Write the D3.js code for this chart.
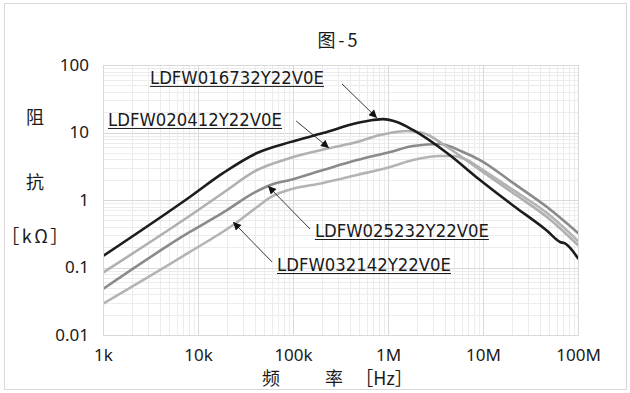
<!DOCTYPE html>
<html>
<head>
<meta charset="utf-8">
<script src="https://cdn.jsdelivr.net/npm/d3@7"></script>
<style>
  html, body { margin: 0; padding: 0; background: #fff; }
  svg { display: block; }
  text { fill: #1a1a1a; }
</style>
</head>
<body>
<svg id="chart" width="630" height="393"></svg>
<script>
// Impedance vs. frequency for four ferrite bead parts (log-log).
// Frequencies in Hz, impedance in kΩ.
const partNames = ["LDFW016732Y22V0E", "LDFW020412Y22V0E", "LDFW025232Y22V0E", "LDFW032142Y22V0E"];

const freq016732 = [1e3, 8.2e3, 18.3e3, 41.8e3, 93e3, 207e3, 472e3, 695e3, 886e3, 1.24e6, 1.83e6, 4.18e6, 9.3e6, 20.7e6, 47.2e6, 64.7e6, 73e6, 1e8];
const z016732    = [0.148, 1.11, 2.5, 4.97, 7.2, 9.8, 13.8, 15.3, 15.8, 14.3, 10.9, 4.97, 1.98, 0.83, 0.35, 0.239, 0.227, 0.137];

const freq020412 = [1e3, 8.2e3, 18.3e3, 41.8e3, 93e3, 245e3, 472e3, 824e3, 1.05e6, 1.58e6, 2.34e6, 4.18e6, 9.3e6, 20.7e6, 47.2e6, 1e8];
const z020412    = [0.084, 0.585, 1.27, 2.78, 4.19, 5.89, 7.23, 9.18, 9.84, 10.5, 9.84, 6.1, 2.78, 1.27, 0.56, 0.215];

const freq025232 = [1e3, 8.2e3, 18.3e3, 40e3, 60e3, 93e3, 207e3, 472e3, 1.05e6, 1.83e6, 3.53e6, 6.15e6, 9.3e6, 20.7e6, 47.2e6, 1e8];
const z025232    = [0.048, 0.336, 0.65, 1.31, 1.70, 1.98, 2.78, 3.91, 5.14, 6.31, 6.76, 5.14, 3.91, 1.79, 0.787, 0.325];

const freq032142 = [1e3, 8.2e3, 23.4e3, 41.8e3, 60e3, 90e3, 207e3, 472e3, 1.05e6, 1.83e6, 3.53e6, 4.83e6, 6.79e6, 9.3e6, 20.7e6, 47.2e6, 1e8];
const z032142    = [0.029, 0.17, 0.426, 0.787, 1.13, 1.41, 1.79, 2.35, 3.08, 3.91, 4.49, 4.49, 3.91, 2.98, 1.41, 0.64, 0.247];

const xTickValues = [1e3, 1e4, 1e5, 1e6, 1e7, 1e8];
const xTickLabels = ["1k", "10k", "100k", "1M", "10M", "100M"];
const yTickValues = [0.01, 0.1, 1, 10, 100];
const yTickLabels = ["0.01", "0.1", "1", "10", "100"];

// Callout placement in data units: label baseline start and arrow tail/tip.
const labelFreq  = [3.12e3, 1.13e3, 170e3, 67.9e3];
const labelZ     = [52.4, 12.5, 0.283, 0.0887];
const arrowFromF = [328e3, 108e3, 151e3, 60.1e3];
const arrowFromZ = [52.4, 14.8, 0.372, 0.121];
const arrowToF   = [766e3, 239e3, 54.6e3, 23.4e3];
const arrowToZ   = [16.4, 5.89, 1.61, 0.472];

const series = [
  { name: partNames[0], f: freq016732, z: z016732, color: "#1c1c1c" },
  { name: partNames[1], f: freq020412, z: z020412, color: "#b0b0b0" },
  { name: partNames[2], f: freq025232, z: z025232, color: "#8a8a8a" },
  { name: partNames[3], f: freq032142, z: z032142, color: "#b4b4b4" }
];

const svg = d3.select("#chart");
const plot = { left: 103, right: 578, top: 65, bottom: 335 };

// outer frame
svg.append("rect")
  .attr("x", 4.5).attr("y", 3.5).attr("width", 622).attr("height", 386)
  .attr("fill", "#fff").attr("stroke", "#d9d9d9").attr("stroke-width", 1);

const x = d3.scaleLog().domain([1e3, 1e8]).range([plot.left, plot.right]);
const y = d3.scaleLog().domain([0.01, 100]).range([plot.bottom, plot.top]);

// grid: minor lines (2..9 of each decade) then decade lines
const minorX = [];
for (let e = 3; e < 8; e++) for (let m = 2; m <= 9; m++) minorX.push(m * Math.pow(10, e));
const minorY = [];
for (let e = -2; e < 2; e++) for (let m = 2; m <= 9; m++) minorY.push(m * Math.pow(10, e));

const grid = svg.append("g").attr("shape-rendering", "crispEdges");
grid.selectAll(".vx").data(minorX).enter().append("line")
  .attr("x1", d => Math.round(x(d)) + 0.5).attr("x2", d => Math.round(x(d)) + 0.5)
  .attr("y1", plot.top).attr("y2", plot.bottom)
  .attr("stroke", "#ececec").attr("stroke-width", 1);
grid.selectAll(".hy").data(minorY).enter().append("line")
  .attr("y1", d => Math.round(y(d)) + 0.5).attr("y2", d => Math.round(y(d)) + 0.5)
  .attr("x1", plot.left).attr("x2", plot.right)
  .attr("stroke", "#ececec").attr("stroke-width", 1);
grid.selectAll(".mx").data(xTickValues).enter().append("line")
  .attr("x1", d => Math.round(x(d)) + 0.5).attr("x2", d => Math.round(x(d)) + 0.5)
  .attr("y1", plot.top).attr("y2", plot.bottom)
  .attr("stroke", "#d9d9d9").attr("stroke-width", 1);
grid.selectAll(".my").data(yTickValues).enter().append("line")
  .attr("y1", d => Math.round(y(d)) + 0.5).attr("y2", d => Math.round(y(d)) + 0.5)
  .attr("x1", plot.left).attr("x2", plot.right)
  .attr("stroke", "#d9d9d9").attr("stroke-width", 1);

// axes (labels only, no tick marks)
const axisFont = "'Noto Sans', 'DejaVu Sans', sans-serif";
const xAxis = d3.axisBottom(x).tickValues(xTickValues)
  .tickFormat((d, i) => xTickLabels[i]).tickSize(0).tickPadding(14);
const gx = svg.append("g").attr("transform", `translate(0,${plot.bottom})`).call(xAxis);
gx.select(".domain").remove();
gx.selectAll("text").attr("font-family", axisFont).attr("font-size", 17).attr("fill", "#1a1a1a");

const yAxis = d3.axisLeft(y).tickValues(yTickValues)
  .tickFormat((d, i) => yTickLabels[i]).tickSize(0).tickPadding(14);
const gy = svg.append("g").attr("transform", `translate(${plot.left},0)`).call(yAxis);
gy.select(".domain").remove();
gy.selectAll("text").attr("font-family", axisFont).attr("font-size", 17).attr("fill", "#1a1a1a");

// curves
const line = d3.line()
  .x(d => x(d[0])).y(d => y(d[1]))
  .curve(d3.curveMonotoneX);
svg.append("clipPath").attr("id", "plotclip").append("rect")
  .attr("x", plot.left).attr("y", plot.top)
  .attr("width", plot.right - plot.left).attr("height", plot.bottom - plot.top);
const order = [3, 2, 1, 0];
svg.append("g").attr("clip-path", "url(#plotclip)")
  .selectAll("path").data(order.map(i => series[i])).enter().append("path")
  .attr("d", s => line(s.f.map((f, k) => [f, s.z[k]])))
  .attr("fill", "none").attr("stroke", s => s.color)
  .attr("stroke-width", 2.6).attr("stroke-linejoin", "round").attr("stroke-linecap", "round");

// plot frame
svg.append("rect")
  .attr("x", plot.left + 0.5).attr("y", plot.top + 0.5)
  .attr("width", plot.right - plot.left).attr("height", plot.bottom - plot.top)
  .attr("fill", "none").attr("stroke", "#d9d9d9").attr("shape-rendering", "crispEdges");

// callouts
svg.append("defs").append("marker")
  .attr("id", "head").attr("viewBox", "0 0 10 10")
  .attr("refX", 10).attr("refY", 5)
  .attr("markerWidth", 11).attr("markerHeight", 8)
  .attr("markerUnits", "userSpaceOnUse").attr("orient", "auto")
  .append("path").attr("d", "M0,0 L10,5 L0,10 Z").attr("fill", "#111");

const callouts = svg.append("g");
partNames.forEach((name, i) => {
  callouts.append("line")
    .attr("x1", x(arrowFromF[i])).attr("y1", y(arrowFromZ[i]))
    .attr("x2", x(arrowToF[i])).attr("y2", y(arrowToZ[i]))
    .attr("stroke", "#222").attr("stroke-width", 0.9)
    .attr("marker-end", "url(#head)");
  const lx = x(labelFreq[i]), ly = y(labelZ[i]);
  callouts.append("text")
    .attr("x", lx).attr("y", ly)
    .attr("font-family", "'DejaVu Sans', sans-serif").attr("font-size", 17)
    .attr("textLength", 174).attr("lengthAdjust", "spacingAndGlyphs")
    .attr("fill", "#1a1a1a")
    .text(name);
  callouts.append("line")
    .attr("x1", lx).attr("x2", lx + 174)
    .attr("y1", ly + 2.5).attr("y2", ly + 2.5)
    .attr("stroke", "#1a1a1a").attr("stroke-width", 1);
});

// titles
const cjk = "'Noto Sans CJK SC', 'Noto Sans CJK JP', sans-serif";
svg.append("text").attr("x", 339).attr("y", 47).attr("text-anchor", "middle")
  .attr("font-family", cjk).attr("font-size", 18).attr("letter-spacing", 3).text("图-5");

svg.append("text").attr("x", 271).attr("y", 385).attr("text-anchor", "middle")
  .attr("font-family", cjk).attr("font-size", 18).text("频");
svg.append("text").attr("x", 334).attr("y", 385).attr("text-anchor", "middle")
  .attr("font-family", cjk).attr("font-size", 18).text("率");
svg.append("text").attr("x", 384).attr("y", 385).attr("text-anchor", "middle")
  .attr("font-family", cjk).attr("font-size", 18).text("［Hz］");

svg.append("text").attr("x", 35).attr("y", 124).attr("text-anchor", "middle")
  .attr("font-family", cjk).attr("font-size", 18).text("阻");
svg.append("text").attr("x", 35).attr("y", 189).attr("text-anchor", "middle")
  .attr("font-family", cjk).attr("font-size", 18).text("抗");
svg.append("text").attr("x", 36).attr("y", 243).attr("text-anchor", "middle")
  .attr("font-family", cjk).attr("font-size", 18).attr("letter-spacing", 2.5).text("［kΩ］");
</script>
</body>
</html>
